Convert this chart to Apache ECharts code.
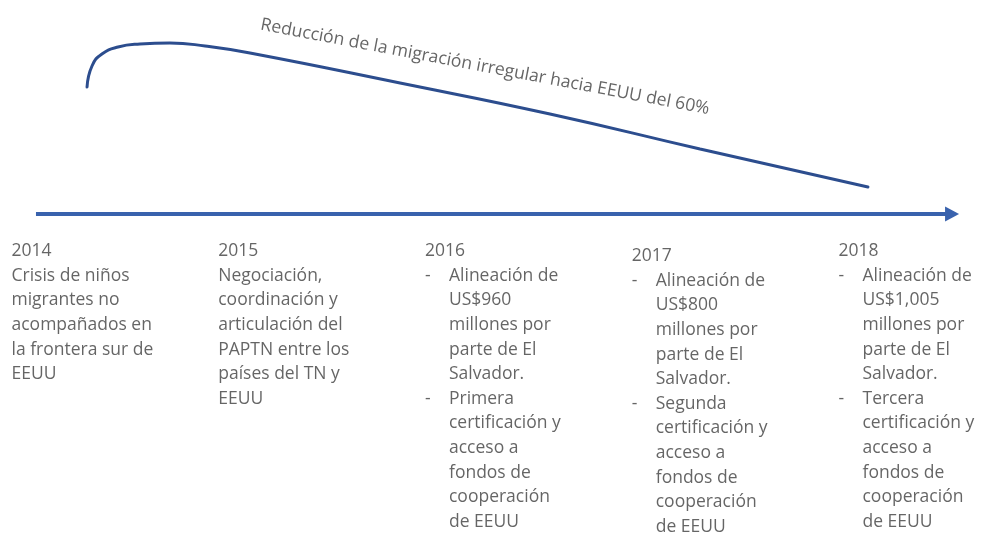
<!DOCTYPE html>
<html>
<head>
<meta charset="utf-8">
<script src="https://cdn.jsdelivr.net/npm/echarts/dist/echarts.min.js"></script>
<style>
  html, body { margin: 0; padding: 0; background: #fff; }
  #chart { width: 982px; height: 533px; }
</style>
</head>
<body>
<div id="chart"></div>
<script>
  // hitos de la línea de tiempo
  const years = [2014, 2015, 2016, 2017, 2018]
  const notes2014 = ['Crisis de niños', 'migrantes no', 'acompañados en', 'la frontera sur de', 'EEUU']
  const notes2015 = ['Negociación,', 'coordinación y', 'articulación del', 'PAPTN entre los', 'países del TN y', 'EEUU']
  const bullets2016 = [
    ['Alineación de', 'US$960', 'millones por', 'parte de El', 'Salvador.'],
    ['Primera', 'certificación y', 'acceso a', 'fondos de', 'cooperación', 'de EEUU']
  ]
  const bullets2017 = [
    ['Alineación de', 'US$800', 'millones por', 'parte de El', 'Salvador.'],
    ['Segunda', 'certificación y', 'acceso a', 'fondos de', 'cooperación', 'de EEUU']
  ]
  const bullets2018 = [
    ['Alineación de', 'US$1,005', 'millones por', 'parte de El', 'Salvador.'],
    ['Tercera', 'certificación y', 'acceso a', 'fondos de', 'cooperación', 'de EEUU']
  ]

  // curva de tendencia: año y nivel sobre la línea de tiempo
  const trendYears = [2014.363, 2014.387, 2014.435, 2014.513, 2014.619, 2014.764, 2014.934, 2015.151, 2015.877, 2016.602, 2017.328, 2018.140]
  const trendLevels = [127, 148, 160, 167, 170, 171, 168, 161, 131, 100, 65, 27]
  const trendText = 'Reducción de la migración irregular hacia EEUU del 60%'

  // layout
  const axisStart = 2014.116, axisEnd = 2018.547
  const blockTop = [-25.5, -25.5, -25.5, -30.5, -25.5]
  const textColor = '#3f3f3f'
  const font = '"Open Sans", sans-serif'

  function block(year, lines, bullets) {
    const out = ['{t|' + year + '}']
    if (lines) lines.forEach(l => out.push('{t|' + l + '}'))
    if (bullets) bullets.forEach(b => b.forEach((l, i) => out.push('{d|' + (i === 0 ? '-' : ' ') + '}{t|' + l + '}')))
    return out.join('\n')
  }

  const blocks = [
    block(years[0], notes2014),
    block(years[1], notes2015),
    block(years[2], null, bullets2016),
    block(years[3], null, bullets2017),
    block(years[4], null, bullets2018)
  ]

  const chart = echarts.init(document.getElementById('chart'))
  chart.setOption({
    animation: false,
    backgroundColor: '#fff',
    grid: { left: 0, right: 0, top: 0, bottom: 0 },
    xAxis: { type: 'value', min: 2013.942, max: 2018.6917, show: false },
    yAxis: { type: 'value', min: -319, max: 214, show: false },
    series: [
      {
        type: 'line',
        data: [[axisStart, 0], {
          value: [axisEnd, 0],
          symbol: 'path://M0,0L10,5L0,10Z',
          symbolSize: [14, 15]
        }],
        symbol: 'none',
        showSymbol: true,
        lineStyle: { color: '#3962ad', width: 4 },
        itemStyle: { color: '#3962ad' },
        silent: true
      },
      {
        type: 'line',
        data: trendYears.map((y, i) => [y, trendLevels[i]]),
        smooth: 0.5,
        symbol: 'none',
        lineStyle: { color: '#2c4d8e', width: 3, cap: 'round' },
        silent: true
      },
      {
        type: 'scatter',
        symbolSize: 1,
        itemStyle: { color: 'rgba(0,0,0,0)' },
        silent: true,
        data: years.map((y, i) => ({
          value: [y, blockTop[i]],
          label: { formatter: blocks[i] }
        })),
        label: {
          show: true,
          position: [0, 0],
          align: 'left',
          verticalAlign: 'top',
          rich: {
            t: { fontFamily: font, fontSize: 17.5, lineHeight: 24.6, color: textColor },
            d: { fontFamily: font, fontSize: 17.5, lineHeight: 24.6, color: textColor, width: 24 }
          }
        }
      },
      {
        type: 'scatter',
        symbolSize: 1,
        itemStyle: { color: 'rgba(0,0,0,0)' },
        silent: true,
        data: [[2016.288, 147]],
        label: {
          show: true,
          position: 'inside',
          formatter: trendText,
          rotate: -10.7,
          fontFamily: font,
          fontSize: 17.6,
          color: textColor
        }
      }
    ]
  })
</script>
</body>
</html>
